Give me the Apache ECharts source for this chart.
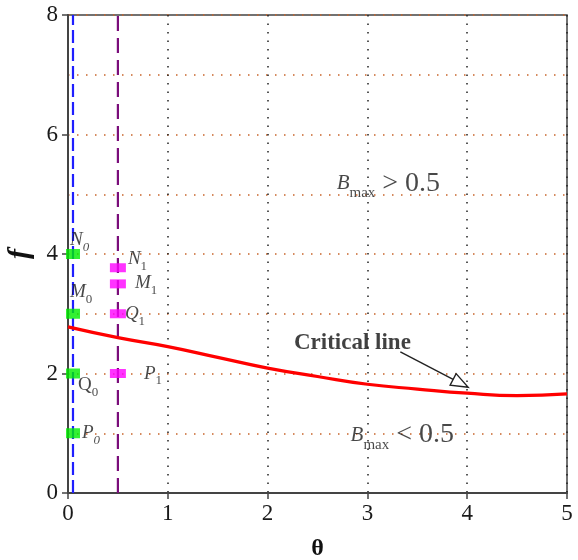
<!DOCTYPE html>
<html>
<head>
<meta charset="utf-8">
<script src="https://cdn.jsdelivr.net/npm/echarts@6/dist/echarts.min.js"></script>
<style>html,body{margin:0;padding:0;background:#fff;}#c{width:578px;height:560px;}</style>
</head>
<body>
<div id="c"></div>
<script>
// ---- data ----
const xTicks = [0, 1, 2, 3, 4, 5];
const yTicks = [0, 2, 4, 6, 8];
const criticalTheta = [0, 0.5, 1, 1.5, 2, 2.5, 3, 3.5, 4, 4.5, 5];
const criticalF = [2.78, 2.6, 2.45, 2.27, 2.09, 1.95, 1.82, 1.74, 1.67, 1.63, 1.66];
const theta0 = 0.05;      // blue dashed line position
const theta1 = 0.5;       // purple dashed line position
const greenF = [4, 3, 2, 1];
const greenNames = ['N', 'M', 'Q', 'P'];
const magentaF = [3.77, 3.5, 3.0, 2.0];
const magentaNames = ['N', 'M', 'Q', 'P'];
const arrowFrom = [3.33, 2.36];
const arrowTo = [4.01, 1.77];
const critLabelPos = [2.85, 2.51];
const upperLabelPos = [3.21, 5.18];
const lowerLabelPos = [3.35, 0.97];

const SERIF = '"Liberation Serif","DejaVu Serif",serif';
const TXT = '#1a1a1a';

function subRich(mainItalic, subItalic) {
  return {
    m: {fontFamily: SERIF, fontSize: 19, fontStyle: mainItalic ? 'italic' : 'normal', color: TXT},
    s: {fontFamily: SERIF, fontSize: 13, fontStyle: subItalic ? 'italic' : 'normal', color: TXT, padding: [15, 0, 0, 0]}
  };
}

const greenOffsets = [[-10, -14], [-10, -22], [-2, 12], [2, 0]];
const greenItal = [[true, true], [true, false], [false, false], [true, true]];
const magOffsets = [[2, -9], [9, -1], [-1, 0], [18, 0]];

const greenData = greenF.map((f, i) => ({
  value: [theta0, f],
  label: {
    show: true, position: 'right', distance: 0, offset: greenOffsets[i],
    formatter: '{m|' + greenNames[i] + '}{s|0}',
    rich: subRich(greenItal[i][0], greenItal[i][1])
  }
}));
const magData = magentaF.map((f, i) => ({
  value: [theta1, f],
  label: {
    show: true, position: 'right', distance: 0, offset: magOffsets[i],
    formatter: '{m|' + magentaNames[i] + '}{s|1}',
    rich: subRich(true, false)
  }
}));

const bRich = {
  b: {fontFamily: SERIF, fontSize: 21, fontStyle: 'italic', color: TXT},
  s: {fontFamily: SERIF, fontSize: 15, color: TXT, padding: [20, 0, 0, 0]},
  r: {fontFamily: SERIF, fontSize: 28, color: TXT}
};

const chart = echarts.init(document.getElementById('c'));
chart.setOption({
  animation: false,
  backgroundColor: '#fff',
  grid: {left: 68, right: 11, top: 15, bottom: 67, show: true, borderColor: '#444', borderWidth: 1.5,
    backgroundColor: 'transparent', containLabel: false, outerBoundsMode: 'none'},
  xAxis: {
    type: 'value', min: 0, max: 5, interval: 1,
    name: 'θ', nameLocation: 'middle', nameGap: 44,
    nameTextStyle: {fontFamily: SERIF, fontSize: 24, fontWeight: 'bold', color: '#111'},
    axisLine: {show: true, lineStyle: {color: '#444', width: 2}},
    axisTick: {show: true, length: 6, lineStyle: {color: '#444', width: 1.5}},
    axisLabel: {fontFamily: SERIF, fontSize: 23, color: TXT, margin: 9,
      formatter: v => xTicks.includes(v) ? String(v) : ''},
    splitLine: {show: true, lineStyle: {color: '#222', type: [1.5, 7], width: 1.5}}
  },
  yAxis: {
    type: 'value', min: 0, max: 8, interval: 2,
    name: 'f', nameLocation: 'middle', nameGap: 32,
    nameTextStyle: {fontFamily: SERIF, fontSize: 30, fontWeight: 'bold', fontStyle: 'italic', color: '#111'},
    axisLine: {show: true, lineStyle: {color: '#444', width: 2}},
    axisTick: {show: true, length: 6, lineStyle: {color: '#444', width: 1.5}},
    axisLabel: {fontFamily: SERIF, fontSize: 23, color: TXT, margin: 10,
      formatter: v => yTicks.includes(v) ? String(v) : ''},
    splitLine: {show: true, lineStyle: {color: '#c8642a', type: [1.5, 7.5], width: 1.5}},
    minorTick: {show: false, splitNumber: 2},
    minorSplitLine: {show: true, lineStyle: {color: '#c8642a', type: [1.5, 7.5], width: 1.5}}
  },
  series: [
    {
      type: 'line', data: [[theta0, 0], [theta0, 8]], symbol: 'none', silent: true,
      lineStyle: {color: '#1f1fff', width: 2.2, type: [13, 5]}, z: 3
    },
    {
      type: 'line', data: [[theta1, 0], [theta1, 8]], symbol: 'none', silent: true,
      lineStyle: {color: '#7a0d7a', width: 2.2, type: [15, 7]}, z: 3
    },
    {
      type: 'line', data: criticalTheta.map((t, i) => [t, criticalF[i]]), smooth: true, symbol: 'none',
      lineStyle: {color: '#ff0000', width: 3.2}, z: 4
    },
    {
      type: 'scatter', data: greenData, symbol: 'rect', symbolSize: [14, 10],
      itemStyle: {color: '#00ee00'}, z: 5
    },
    {
      type: 'scatter', data: magData, symbol: 'rect', symbolSize: [16, 9],
      itemStyle: {color: '#ff00ff'}, z: 5
    },
    {
      type: 'scatter', symbolSize: 1, itemStyle: {color: 'rgba(0,0,0,0)'}, z: 6,
      data: [
        {value: upperLabelPos, label: {show: true, position: 'inside', formatter: '{b|B}{s|max}{r| > 0.5}', rich: bRich}},
        {value: lowerLabelPos, label: {show: true, position: 'inside', formatter: '{b|B}{s|max}{r| < 0.5}', rich: bRich}},
        {value: critLabelPos, label: {show: true, position: 'inside', formatter: 'Critical line',
          fontFamily: SERIF, fontSize: 23, fontWeight: 'bold', color: '#111'}}
      ]
    },
    {
      type: 'custom', z: 7, silent: true,
      data: [[arrowFrom[0], arrowFrom[1], arrowTo[0], arrowTo[1]]],
      renderItem: function (params, api) {
        const p0 = api.coord([api.value(0), api.value(1)]);
        const p1 = api.coord([api.value(2), api.value(3)]);
        const dx = p1[0] - p0[0], dy = p1[1] - p0[1];
        const len = Math.sqrt(dx * dx + dy * dy);
        const ux = dx / len, uy = dy / len;
        const hl = 17, hw = 6.5;
        const bx = p1[0] - ux * hl, by = p1[1] - uy * hl;
        return {
          type: 'group',
          children: [
            {type: 'line', shape: {x1: p0[0], y1: p0[1], x2: bx, y2: by}, style: {stroke: '#222', lineWidth: 1.4}},
            {type: 'polygon', shape: {points: [[p1[0], p1[1]], [bx - uy * hw, by + ux * hw], [bx + uy * hw, by - ux * hw]]},
              style: {fill: '#fff', stroke: '#222', lineWidth: 1.4}}
          ]
        };
      }
    }
  ]
});
</script>
</body>
</html>
